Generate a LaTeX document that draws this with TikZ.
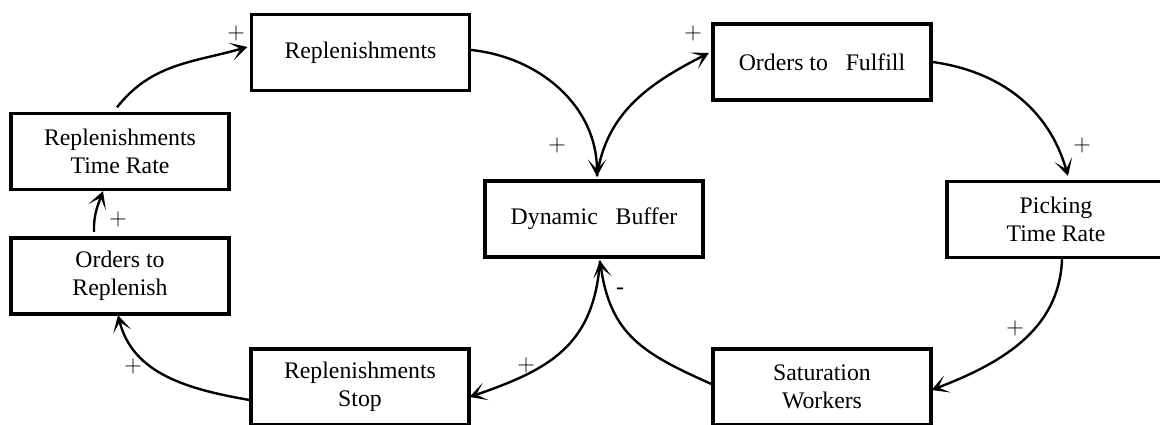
\documentclass[tikz,border=0pt]{standalone}
\usepackage{fontspec}
\setmainfont{Liberation Serif}
\usetikzlibrary{arrows.meta}

\begin{document}
\begin{tikzpicture}[x=0.025cm,y=0.025cm,
    box/.style={draw,line width=2.3pt,minimum width=\w*0.025cm,minimum height=\h*0.025cm,
        align=center,inner sep=0pt,font=\fontsize{16.9}{19.9}\selectfont},
    link/.style={line width=1.7pt,-{Stealth[length=12pt,width=13pt,inset=7pt]}},
    sign/.style={inner sep=0pt,font=\fontsize{16.9}{19.9}\selectfont}]
        \pgfmathsetmacro\w{218}
        \pgfmathsetmacro\h{76}
        \useasboundingbox (0,0) rectangle (1160,425);
        \clip (0,0) rectangle (1160,425);
        \node[box] (rep) at (360.5,372.5) {Replenishments};
        \node[box] (rtr) at (120,273.5) {Replenishments\\Time Rate};
        \node[box] (otr) at (120,149) {Orders to\\Replenish};
        \node[box] (rst) at (360,38) {Replenishments\\Stop};
        \node[box] (dyn) at (594,206) {Dynamic~~~Buffer};
        \node[box] (otf) at (822,363) {Orders to~~~Fulfill};
        \node[box] (ptr) at (1056,205.5) {Picking\\Time Rate};
        \node[box] (sat) at (822,38) {Saturation\\Workers};

        \draw[link] ([shift={(-3,4.5)}]rtr.north) to[out=52,in=196] ([shift={(-2.5,5.5)}]rep.west);
        \draw[link] ([shift={(0,2.5)}]rep.east) to[out=-6,in=90] ([shift={(3,3)}]dyn.north);
        \draw[link] ([shift={(3,3)}]dyn.north) to[out=82,in=207] ([shift={(-2.5,9)}]otf.west);
        \draw[link] (otf.east) to[out=-8,in=106] ([shift={(12,4)}]ptr.north);
        \draw[link] ([shift={(6,0)}]ptr.south) to[out=-92,in=21] ([shift={(-1,-3)}]sat.east);
        \draw[link] ([shift={(0,3)}]sat.west) to[out=156,in=-82,looseness=1.15] ([shift={(6,-2)}]dyn.south);
        \draw[link] ([shift={(6,-2)}]dyn.south) to[out=-94,in=19,looseness=1.15] ([shift={(-1,-10)}]rst.east);
        \draw[link] ([shift={(0,-13)}]rst.west) to[out=170,in=-76] ([shift={(-2,0.5)}]otr.south);
        \draw[link] ([shift={(-26,4.5)}]otr.north) to[out=92,in=250] ([shift={(-17,0)}]rtr.south);

        \node[sign] (s1) at (236,392) {$+$};
        \node[sign] (s2) at (557,280) {$+$};
        \node[sign] (s3) at (693,392) {$+$};
        \node[sign] (s4) at (1082,280) {$+$};
        \node[sign] (s5) at (1015,97) {$+$};
        \node[sign] (s6) at (620,134) {-};
        \node[sign] (s7) at (526,60) {$+$};
        \node[sign] (s8) at (133,59) {$+$};
        \node[sign] (s9) at (118,206) {$+$};
    \end{tikzpicture}
\end{document}
